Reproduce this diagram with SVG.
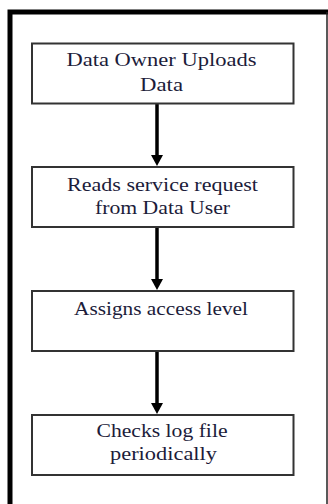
<svg xmlns="http://www.w3.org/2000/svg" width="328" height="504" viewBox="0 0 328 504">
<style>
.box{fill:#fff;stroke:#333;stroke-width:2}
.t{font-family:"Liberation Serif","Times New Roman",serif;font-size:19px;fill:#1c1c3a;text-anchor:middle}
.c{stroke:#000;stroke-width:3.5;fill:none}
.h{fill:#000}
</style>
<rect width="328" height="504" fill="#fff"/>
<g id="frame">
<path d="M10 504 V12 H328" fill="none" stroke="#000" stroke-width="5"/>
<path d="M327 12 V504" fill="none" stroke="#222" stroke-width="1.5"/>
</g>
<g id="connectors">
<path class="c" d="M157 104 V156"/>
<path class="h" d="M151 155 L163 155 L157 166 Z"/>
<path class="c" d="M157 228 V280"/>
<path class="h" d="M151 279 L163 279 L157 290 Z"/>
<path class="c" d="M157 352 V404"/>
<path class="h" d="M151 403 L163 403 L157 414 Z"/>
</g>
<g id="n1">
<rect class="box" x="32" y="43.5" width="261.5" height="60"/>
<text class="t" x="161.5" y="65.5" textLength="190" lengthAdjust="spacingAndGlyphs">Data Owner Uploads</text>
<text class="t" x="161.5" y="90.5" textLength="43" lengthAdjust="spacingAndGlyphs">Data</text>
</g>
<g id="n2">
<rect class="box" x="32" y="167" width="261.5" height="60"/>
<text class="t" x="162.5" y="190.5" textLength="191" lengthAdjust="spacingAndGlyphs">Reads  service request</text>
<text class="t" x="162.5" y="214" textLength="135" lengthAdjust="spacingAndGlyphs">from Data User</text>
</g>
<g id="n3">
<rect class="box" x="32" y="291" width="261.5" height="60"/>
<text class="t" x="161" y="315" textLength="174" lengthAdjust="spacingAndGlyphs">Assigns access level</text>
</g>
<g id="n4">
<rect class="box" x="32" y="415" width="261.5" height="60"/>
<text class="t" x="162" y="436.5" textLength="131" lengthAdjust="spacingAndGlyphs">Checks log file</text>
<text class="t" x="163.5" y="459.5" textLength="107" lengthAdjust="spacingAndGlyphs">periodically</text>
</g>
</svg>
